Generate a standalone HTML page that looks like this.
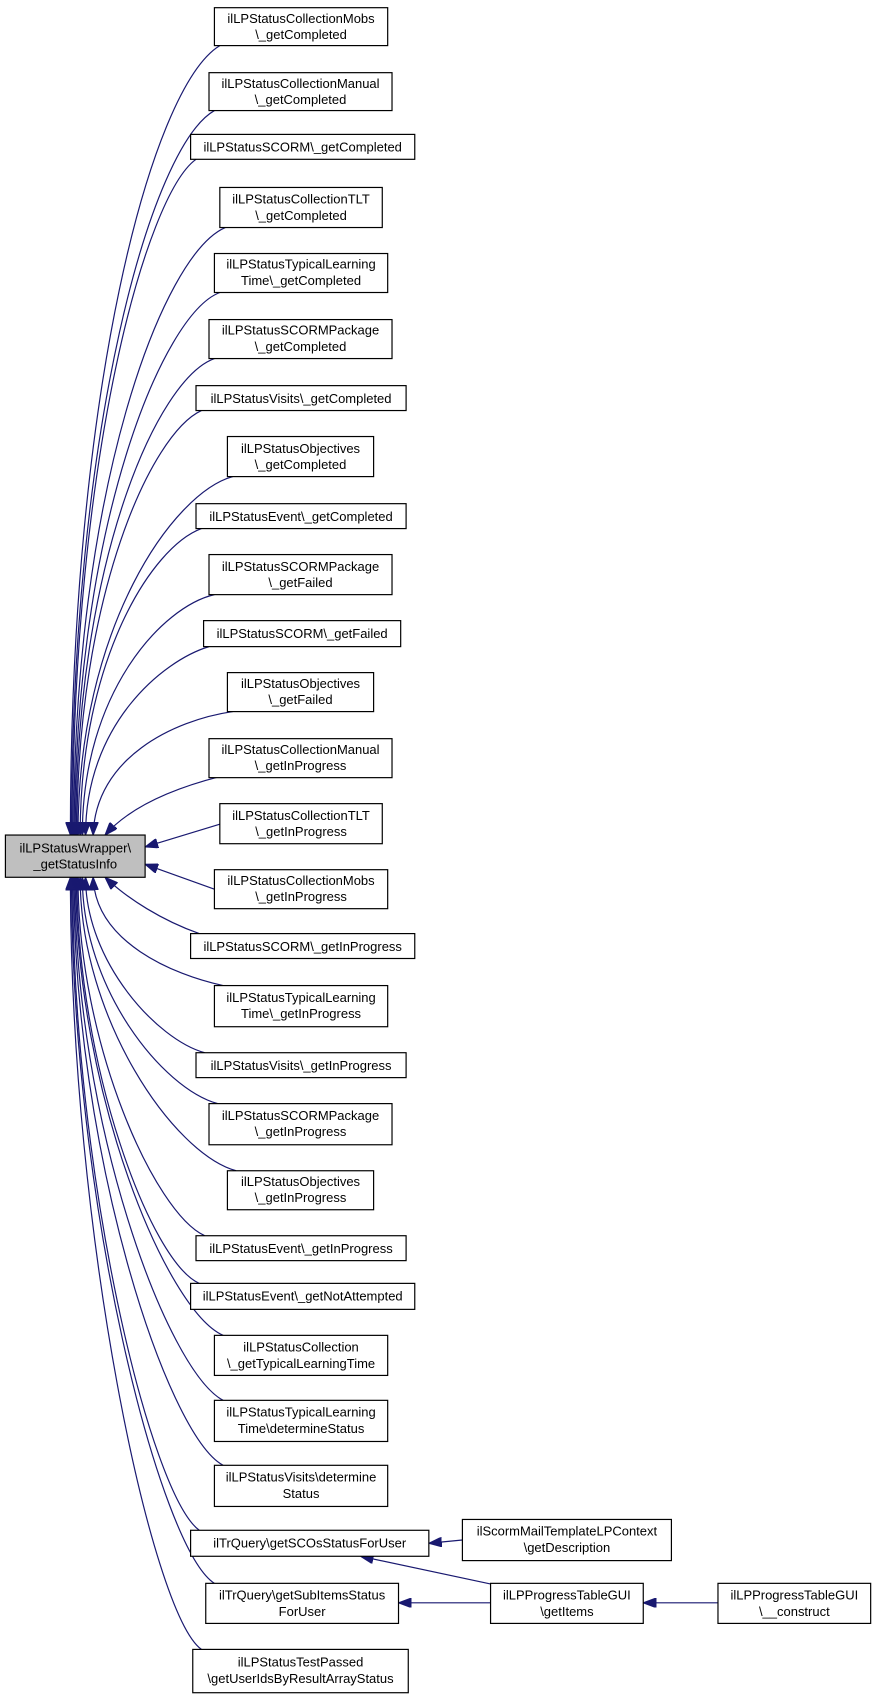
<!DOCTYPE html>
<html><head><meta charset="utf-8"><style>
html,body{margin:0;padding:0;background:#fff;}
svg{display:block;}
text{font-family:"Liberation Sans",Arial,sans-serif;font-size:12px;fill:#000;text-anchor:middle;}
.n{fill:#fff;stroke:#000;stroke-width:1.1;}
.e{fill:none;stroke:#191970;stroke-width:1.1;}
</style></head><body>
<svg width="875" height="1695" viewBox="0 0 808 1565" xmlns="http://www.w3.org/2000/svg">
<defs><marker id="a" viewBox="0 0 12 9" refX="12" refY="4.5" markerWidth="12" markerHeight="9" markerUnits="userSpaceOnUse" orient="auto"><path d="M0,0 L12,4.5 L0,9 z" fill="#191970" stroke="#191970"/></marker></defs>
<g class="e" marker-end="url(#a)">
<path d="M203,42 C140,80 65,360 65,771"/>
<path d="M198,102 C140,135 66,393 66,771"/>
<path d="M181,147 C135,180 67,421 67,771"/>
<path d="M208,210 C150,235 68,452 68,771"/>
<path d="M203,270 C150,290 69,486 69,771"/>
<path d="M198,331 C145,350 70,519 70,771"/>
<path d="M186,379 C140,400 71,549 71,771"/>
<path d="M215,440 C160,455 72,579 72,771"/>
<path d="M186,488 C140,505 74,609 74,771"/>
<path d="M198,549 C150,560 76,639 76,771"/>
<path d="M193,597 C150,610 79,669 79,771"/>
<path d="M215,657 C160,665 88,700 86,771"/>
<path d="M203,717 C160,728 120,745 97,771"/>
<path d="M203,761 L134,782"/>
<path d="M198,821 L134,798"/>
<path d="M184,862 C150,850 118,830 97,810"/>
<path d="M206,910 C160,900 88,870 86,810"/>
<path d="M189,972 C145,960 79,888 79,810"/>
<path d="M201,1019 C150,1005 76,913 76,810"/>
<path d="M218,1081 C160,1065 74,940 74,810"/>
<path d="M189,1141 C143,1120 72,964 72,810"/>
<path d="M184,1185 C139,1165 71,984 71,810"/>
<path d="M206,1233 C154,1210 70,1009 70,810"/>
<path d="M206,1293 C154,1265 69,1036 69,810"/>
<path d="M206,1353 C154,1325 68,1063 68,810"/>
<path d="M184,1413 C139,1380 67,1087 67,810"/>
<path d="M198,1462 C148,1430 66,1112 66,810"/>
<path d="M186,1523 C140,1490 65,1140 65,810"/>
<path d="M427,1422 L396,1425"/>
<path d="M455,1463 L333,1437"/>
<path d="M453,1480 L368,1480"/>
<path d="M663,1480 L594,1480"/>
</g>
<rect x="5" y="771" width="129" height="39" fill="#bfbfbf" stroke="#000" stroke-width="1.1"/>
<text x="69.5" y="787">ilLPStatusWrapper\</text><text x="69.5" y="802">_getStatusInfo</text>
<g>
<rect class="n" x="198" y="7" width="160" height="35"/><text x="278" y="21">ilLPStatusCollectionMobs</text><text x="278" y="36">\_getCompleted</text>
<rect class="n" x="193" y="67" width="169" height="35"/><text x="277.5" y="81">ilLPStatusCollectionManual</text><text x="277.5" y="96">\_getCompleted</text>
<rect class="n" x="176" y="124" width="207" height="23"/><text x="279.5" y="140">ilLPStatusSCORM\_getCompleted</text>
<rect class="n" x="203" y="173" width="150" height="37"/><text x="278" y="188">ilLPStatusCollectionTLT</text><text x="278" y="203">\_getCompleted</text>
<rect class="n" x="198" y="234" width="160" height="36"/><text x="278" y="248">ilLPStatusTypicalLearning</text><text x="278" y="263">Time\_getCompleted</text>
<rect class="n" x="193" y="295" width="169" height="36"/><text x="277.5" y="309">ilLPStatusSCORMPackage</text><text x="277.5" y="324">\_getCompleted</text>
<rect class="n" x="181" y="356" width="194" height="23"/><text x="278" y="372">ilLPStatusVisits\_getCompleted</text>
<rect class="n" x="210" y="403" width="135" height="37"/><text x="277.5" y="418">ilLPStatusObjectives</text><text x="277.5" y="433">\_getCompleted</text>
<rect class="n" x="181" y="465" width="194" height="23"/><text x="278" y="481">ilLPStatusEvent\_getCompleted</text>
<rect class="n" x="193" y="512" width="169" height="37"/><text x="277.5" y="527">ilLPStatusSCORMPackage</text><text x="277.5" y="542">\_getFailed</text>
<rect class="n" x="188" y="573" width="182" height="24"/><text x="279" y="589">ilLPStatusSCORM\_getFailed</text>
<rect class="n" x="210" y="621" width="135" height="36"/><text x="277.5" y="635">ilLPStatusObjectives</text><text x="277.5" y="650">\_getFailed</text>
<rect class="n" x="193" y="682" width="169" height="36"/><text x="277.5" y="696">ilLPStatusCollectionManual</text><text x="277.5" y="711">\_getInProgress</text>
<rect class="n" x="203" y="742" width="150" height="37"/><text x="278" y="757">ilLPStatusCollectionTLT</text><text x="278" y="772">\_getInProgress</text>
<rect class="n" x="198" y="803" width="160" height="36"/><text x="278" y="817">ilLPStatusCollectionMobs</text><text x="278" y="832">\_getInProgress</text>
<rect class="n" x="176" y="862" width="207" height="23"/><text x="279.5" y="878">ilLPStatusSCORM\_getInProgress</text>
<rect class="n" x="198" y="910" width="160" height="38"/><text x="278" y="925">ilLPStatusTypicalLearning</text><text x="278" y="940">Time\_getInProgress</text>
<rect class="n" x="181" y="972" width="194" height="23"/><text x="278" y="988">ilLPStatusVisits\_getInProgress</text>
<rect class="n" x="193" y="1019" width="169" height="38"/><text x="277.5" y="1034">ilLPStatusSCORMPackage</text><text x="277.5" y="1049">\_getInProgress</text>
<rect class="n" x="210" y="1081" width="135" height="36"/><text x="277.5" y="1095">ilLPStatusObjectives</text><text x="277.5" y="1110">\_getInProgress</text>
<rect class="n" x="181" y="1141" width="194" height="23"/><text x="278" y="1157">ilLPStatusEvent\_getInProgress</text>
<rect class="n" x="176" y="1185" width="207" height="24"/><text x="279.5" y="1201">ilLPStatusEvent\_getNotAttempted</text>
<rect class="n" x="198" y="1233" width="160" height="37"/><text x="278" y="1248">ilLPStatusCollection</text><text x="278" y="1263">\_getTypicalLearningTime</text>
<rect class="n" x="198" y="1293" width="160" height="38"/><text x="278" y="1308">ilLPStatusTypicalLearning</text><text x="278" y="1323">Time\determineStatus</text>
<rect class="n" x="198" y="1353" width="160" height="38"/><text x="278" y="1368">ilLPStatusVisits\determine</text><text x="278" y="1383">Status</text>
<rect class="n" x="176" y="1413" width="220" height="24"/><text x="286" y="1429">ilTrQuery\getSCOsStatusForUser</text>
<rect class="n" x="190" y="1462" width="178" height="37"/><text x="279" y="1477">ilTrQuery\getSubItemsStatus</text><text x="279" y="1492">ForUser</text>
<rect class="n" x="178" y="1523" width="199" height="40"/><text x="277.5" y="1539">ilLPStatusTestPassed</text><text x="277.5" y="1554">\getUserIdsByResultArrayStatus</text>
<rect class="n" x="427" y="1403" width="193" height="38"/><text x="523.5" y="1418">ilScormMailTemplateLPContext</text><text x="523.5" y="1433">\getDescription</text>
<rect class="n" x="453" y="1462" width="141" height="37"/><text x="523.5" y="1477">ilLPProgressTableGUI</text><text x="523.5" y="1492">\getItems</text>
<rect class="n" x="663" y="1462" width="141" height="37"/><text x="733.5" y="1477">ilLPProgressTableGUI</text><text x="733.5" y="1492">\__construct</text>
</g>
</svg>
</body></html>
